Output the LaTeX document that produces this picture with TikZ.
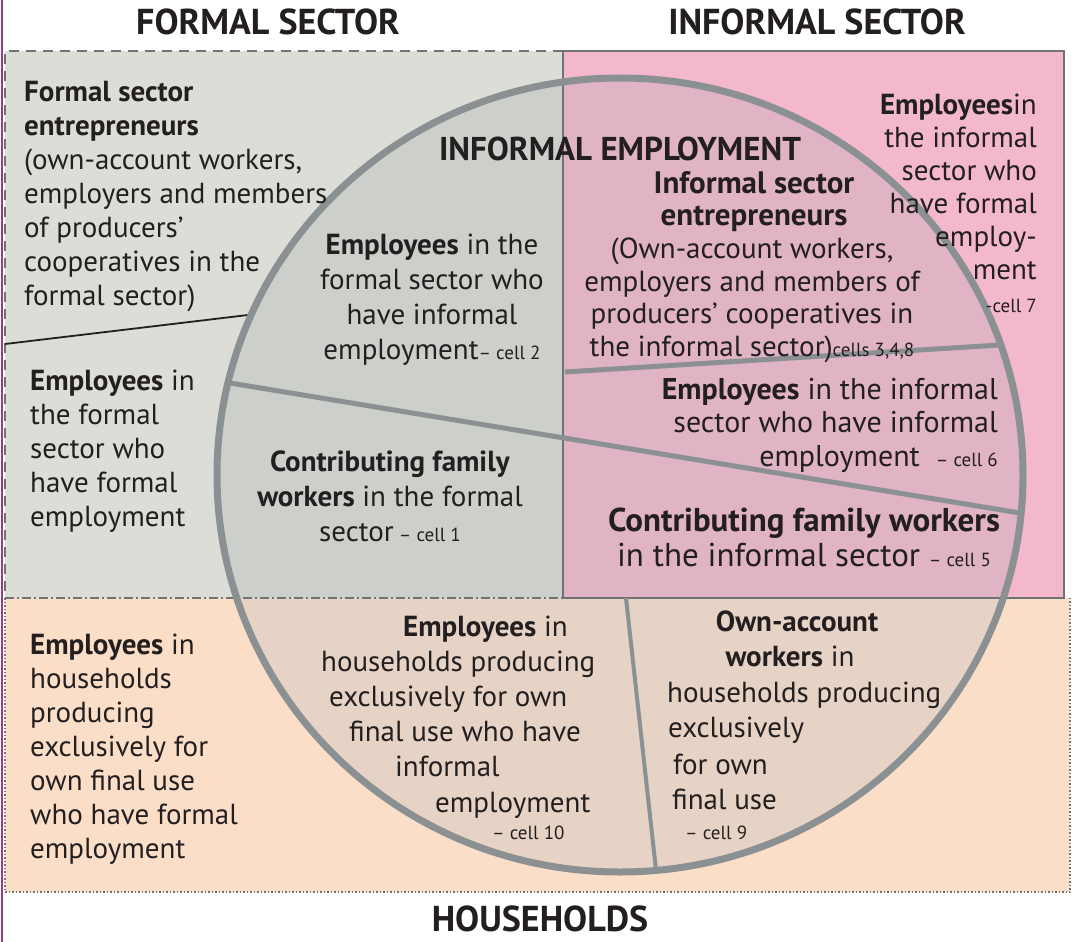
\documentclass[tikz,border=0pt]{standalone}
\usepackage{fontspec}
\setmainfont{PT Sans}
\definecolor{formalOut}{HTML}{DCDDD6}
\definecolor{formalIn}{HTML}{CDCFCB}
\definecolor{infOut}{HTML}{F4B8CD}
\definecolor{infIn}{HTML}{E0B3C5}
\definecolor{hhOut}{HTML}{FBDEC8}
\definecolor{hhIn}{HTML}{E6D3C5}
\definecolor{bordGray}{HTML}{707274}
\definecolor{circGray}{HTML}{8B9193}
\definecolor{ink}{HTML}{231F20}
\definecolor{edgePurple}{HTML}{9B3B86}
\newcommand\cellf[1]{{\fontsize{19}{19}\selectfont #1}}
\tikzset{
  body/.style={font=\fontsize{29}{34}\selectfont, text=ink, inner sep=0pt},
  hdr/.style={font=\bfseries\fontsize{36}{36}\selectfont, text=ink, inner sep=0pt},
  chord/.style={draw=circGray, line width=5pt},
}
\begin{document}
\begin{tikzpicture}[x=1pt,y=-1pt]
\useasboundingbox (0,0) rectangle (1076,942);
\fill[white] (0,0) rectangle (1076,942);
% region fills
\fill[formalOut] (5,51) rectangle (563,598);
\fill[infOut] (563,51) rectangle (1064,598);
\fill[hhOut] (5,598) rectangle (1070,892);
\begin{scope}
  \clip (620,475) ellipse [x radius=403, y radius=397];
  \fill[formalIn] (5,51) rectangle (563,598);
  \fill[infIn] (563,51) rectangle (1064,598);
  \fill[hhIn] (5,598) rectangle (1070,892);
\end{scope}
% borders
\draw[bordGray, line width=2pt, dash pattern=on 10pt off 7pt] (563,51) -- (5,51) -- (5,598);
\draw[bordGray, line width=2pt] (563,51) rectangle (1064,598);
\draw[bordGray, line width=2pt, dash pattern=on 9pt off 3pt on 2pt off 3pt] (5,598) -- (563,598);
\draw[bordGray, line width=2.5pt, dash pattern=on 1.5pt off 2pt] (5,598) -- (5,892) -- (1070,892) -- (1070,598);
\draw[edgePurple, line width=2pt] (1.5,0) -- (1.5,942);
% division lines
\coordinate (a1) at (230,383); \coordinate (a2) at (1020,513);
\coordinate (b1) at (565,372); \coordinate (b2) at (1000,345);
\coordinate (d1) at (5,344);   \coordinate (d2) at (248,315);
\coordinate (e1) at (626,598); \coordinate (e2) at (656,870);
\draw[chord] (a1) -- (a2);
\draw[chord] (b1) -- (b2);
\draw[chord, line width=4pt] (e1) -- (e2);
\draw[ink, line width=1.8pt] (d1) -- (d2);
\draw[circGray, line width=7pt] (620,475) ellipse [x radius=403, y radius=397];
% headers
\node[hdr, anchor=base] (hform) at (268,35) {FORMAL SECTOR};
\node[hdr, anchor=base] (hinf) at (817,35) {INFORMAL SECTOR};
\node[hdr, anchor=base] (hhh) at (540,931) {HOUSEHOLDS};
\node[body, font=\bfseries\fontsize{33}{33}\selectfont, anchor=base] (iemp) at (620,160) {INFORMAL EMPLOYMENT};
% formal sector
\node[body, anchor=north west, align=left] (fent) at (24,81)
  {\textbf{Formal sector}\\ \textbf{entrepreneurs}\\ (own-account workers,\\ employers and members\\ of producers’\\ cooperatives in the\\ formal sector)};
\node[body, anchor=north west, align=left] (ffe) at (30,370)
  {\textbf{Employees} in\\ the formal\\ sector who\\ have formal\\ employment};
\node[body, font=\fontsize{29}{35}\selectfont, anchor=north, align=center] (c2) at (432,234)
  {\textbf{Employees} in the\\ formal sector who\\ have informal\\ employment\cellf{– cell 2}};
\node[body, font=\fontsize{29}{35}\selectfont, anchor=north, align=center] (c1) at (390,451)
  {\textbf{Contributing family}\\ \textbf{workers} in the formal\\ sector\cellf{ – cell 1}};
% informal sector
\node[body, font=\bfseries\fontsize{31}{32}\selectfont, anchor=north, align=center] (c3t) at (754,171)
  {Informal sector\\ entrepreneurs};
\node[body, font=\fontsize{29}{32.5}\selectfont, anchor=north, align=center] (c3) at (752,238)
  {(Own-account workers,\\ employers and members of\\ producers’ cooperatives in\\ the informal sector)\cellf{cells 3,4,8}};
\node[body, font=\fontsize{29}{33}\selectfont, anchor=north east, align=right] (c7) at (1037,94)
  {\textbf{Employees}in\\ the informal\\ sector who\\ have formal\\ employ-\\ ment\\ \cellf{-cell 7}};
\node[body, font=\fontsize{30}{33.5}\selectfont, anchor=north east, align=right] (c6) at (998,378)
  {\textbf{Employees} in the informal\\ sector who have informal\\ employment\ \ \cellf{– cell 6}};
\node[body, font=\fontsize{33}{35}\selectfont, anchor=north, align=center] (c5) at (804,508)
  {\textbf{Contributing family workers}\\ in the informal sector \cellf{– cell 5}};
% households
\node[body, anchor=north west, align=left] (hfe) at (30,634)
  {\textbf{Employees} in\\ households\\ producing\\ exclusively for\\ own final use\\ who have formal\\ employment};
\node[body, anchor=base west] (k1) at (403,636) {\textbf{Employees} in};
\node[body, anchor=base west] (k2) at (321,671) {households producing};
\node[body, anchor=base west] (k3) at (329,706) {exclusively for own};
\node[body, anchor=base west] (k4) at (349,741) {final use who have};
\node[body, anchor=base west] (k5) at (395,776) {informal};
\node[body, anchor=base west] (k6) at (435,812) {employment};
\node[body, anchor=base west] (k7) at (492,839) {\cellf{– cell 10}};
\node[body, anchor=base] (l1) at (797,631) {\textbf{Own-account}};
\node[body, anchor=base] (l2) at (790,666) {\textbf{workers} in};
\node[body, anchor=base west] (l3) at (667,702) {households producing};
\node[body, anchor=base west] (l4) at (668,737) {exclusively};
\node[body, anchor=base west] (l5) at (673,774) {for own};
\node[body, anchor=base west] (l6) at (672,809) {final use};
\node[body, anchor=base west] (l7) at (685,839) {\cellf{– cell 9}};
\end{tikzpicture}
\end{document}
